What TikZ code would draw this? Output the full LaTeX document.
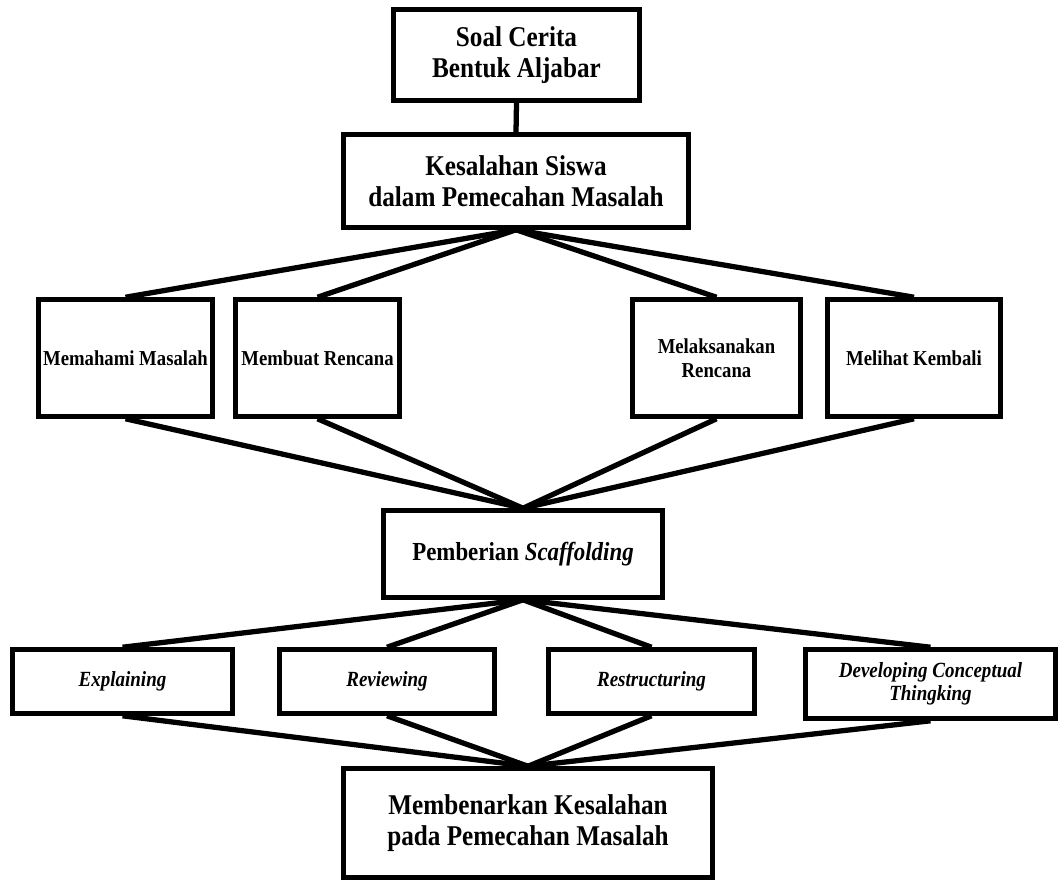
\documentclass[tikz,border=0pt]{standalone}
\usepackage{fontspec}
\setmainfont[FakeStretch=0.88]{Liberation Serif}
\begin{document}
\begin{tikzpicture}[x=0.02cm,y=-0.02cm,
  kotak/.style={draw,line width=2.6pt,inner sep=1pt,align=center},
  besar/.style={font=\fontsize{16.3}{17.6}\selectfont\bfseries},
  sedang/.style={font=\fontsize{14.8}{16}\selectfont\bfseries},
  kecil/.style={font=\fontsize{12.1}{13.4}\selectfont\bfseries},
  miring/.style={font=\fontsize{12.3}{13.4}\selectfont\bfseries\itshape},
  garis/.style={line width=3pt}]
\useasboundingbox (0,0) rectangle (1060,882);
% Alur penelitian
\node[kotak,besar,minimum width=4.92cm,minimum height=1.82cm] (soal) at (516.5,55) {Soal Cerita\\Bentuk Aljabar};
\node[kotak,besar,minimum width=6.9cm,minimum height=1.86cm] (kesalahan) at (516,181) {Kesalahan Siswa\\dalam Pemecahan Masalah};
\node[kotak,kecil,minimum width=3.48cm,minimum height=2.34cm] (memahami) at (125.5,358) {Memahami Masalah};
\node[kotak,kecil,minimum width=3.28cm,minimum height=2.34cm] (membuat) at (317.5,358) {Membuat Rencana};
\node[kotak,kecil,minimum width=3.36cm,minimum height=2.34cm] (melaksanakan) at (716.5,358) {Melaksanakan\\Rencana};
\node[kotak,kecil,minimum width=3.46cm,minimum height=2.34cm] (melihat) at (914,358) {Melihat Kembali};
\node[kotak,sedang,minimum width=5.58cm,minimum height=1.74cm] (pemberian) at (523,554) {Pemberian \textit{Scaffolding}};
\node[kotak,miring,minimum width=4.4cm,minimum height=1.28cm] (explaining) at (122.5,681.5) {Explaining};
\node[kotak,miring,minimum width=4.3cm,minimum height=1.28cm] (reviewing) at (387,681.5) {Reviewing};
\node[kotak,miring,minimum width=4.12cm,minimum height=1.28cm] (restructuring) at (651.5,681.5) {Restructuring};
\node[kotak,miring,minimum width=5cm,minimum height=1.38cm] (developing) at (930.5,684) {Developing Conceptual\\Thingking};
\node[kotak,besar,minimum width=7.38cm,minimum height=2.18cm] (membenarkan) at (528,823) {Membenarkan Kesalahan\\pada Pemecahan Masalah};
\draw[garis] (soal.south) -- (kesalahan.north);
\draw[garis] (kesalahan.south) -- (memahami.north);
\draw[garis] (kesalahan.south) -- (membuat.north);
\draw[garis] (kesalahan.south) -- (melaksanakan.north);
\draw[garis] (kesalahan.south) -- (melihat.north);
\draw[garis] (memahami.south) -- (pemberian.north);
\draw[garis] (membuat.south) -- (pemberian.north);
\draw[garis] (melaksanakan.south) -- (pemberian.north);
\draw[garis] (melihat.south) -- (pemberian.north);
\draw[garis] (pemberian.south) -- (explaining.north);
\draw[garis] (pemberian.south) -- (reviewing.north);
\draw[garis] (pemberian.south) -- (restructuring.north);
\draw[garis] (pemberian.south) -- (developing.north);
\draw[garis] (explaining.south) -- (membenarkan.north);
\draw[garis] (reviewing.south) -- (membenarkan.north);
\draw[garis] (restructuring.south) -- (membenarkan.north);
\draw[garis] (developing.south) -- (membenarkan.north);
\end{tikzpicture}
\end{document}
